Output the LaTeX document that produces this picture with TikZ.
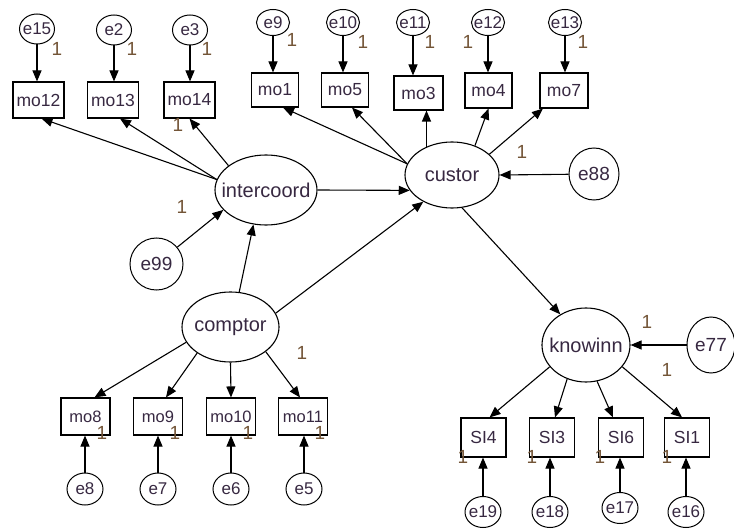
\documentclass[tikz,border=0pt]{standalone}
\usepackage{fontspec}
\setmainfont{Liberation Sans}
\usetikzlibrary{shapes.geometric,arrows.meta}
\definecolor{nm}{RGB}{55,40,65}
\definecolor{onec}{RGB}{115,85,55}
\newcommand\nzw[1]{\makebox[0pt]{#1}}
\begin{document}
\begin{tikzpicture}[x=1pt,y=-1pt,
 obs/.style={draw,line width=1.1pt,rectangle,inner sep=0pt,font=\fontsize{17.5}{17.5}\selectfont,text=nm},
 lat/.style={draw,line width=1.1pt,ellipse,inner sep=0pt,font=\fontsize{20}{20}\selectfont,text=nm},
 err/.style={draw,line width=1pt,ellipse,inner sep=0pt,font=\fontsize{17}{17}\selectfont,text=nm},
 arr/.style={line width=1.1pt,-{Triangle[length=11pt,width=9pt]}},
 onelab/.style={font=\fontsize{19}{19}\selectfont,text=onec,inner sep=0pt},
 tlbox/.style={obs,minimum width=51pt,minimum height=36pt},
 trbox/.style={obs,minimum width=47pt,minimum height=34pt},
 blbox/.style={obs,minimum width=49pt,minimum height=37pt,font=\fontsize{16.5}{16.5}\selectfont},
 sibox/.style={obs,minimum width=45pt,minimum height=39pt},
 tle/.style={err,minimum width=35pt,minimum height=30pt},
 tre/.style={err,minimum width=33pt,minimum height=26pt},
 ble/.style={err,minimum width=36pt,minimum height=32pt},
 bre/.style={err,minimum width=36pt,minimum height=31pt}]
\useasboundingbox (0,0) rectangle (734,532);
% top-left
\node[tlbox] (mo12) at (38.5,100) {mo12};
\node[tlbox] (mo13) at (113,100) {mo13};
\node[tlbox] (mo14) at (189.5,100) {mo14};
\node[tle] (e15) at (37,29) {\nzw{e15}};
\node[tle] (e2) at (114,30) {\nzw{e2}};
\node[tle] (e3) at (190,30) {\nzw{e3}};
% top-right
\node[trbox] (mo1) at (275,90) {mo1};
\node[trbox] (mo5) at (345,90) {mo5};
\node[trbox,minimum width=49pt] (mo3) at (418.5,93) {mo3};
\node[trbox,minimum height=35pt] (mo4) at (488.5,90.5) {mo4};
\node[trbox,minimum width=48pt,minimum height=35pt] (mo7) at (564,90.5) {mo7};
\node[tre] (e9) at (273,22.5) {\nzw{e9}};
\node[tre] (e10) at (343,22.5) {\nzw{e10}};
\node[tre] (e11) at (413,22.5) {\nzw{e11}};
\node[tre] (e12) at (488,22.5) {\nzw{e12}};
\node[tre] (e13) at (565,22.5) {\nzw{e13}};
% bottom-left
\node[blbox] (mo8) at (85.5,416.5) {mo8};
\node[blbox] (mo9) at (158,416.5) {mo9};
\node[blbox] (mo10) at (231,416.5) {mo10};
\node[blbox] (mo11) at (303,416.5) {mo11};
\node[ble] (e8) at (85,489) {\nzw{e8}};
\node[ble] (e7) at (158,489) {\nzw{e7}};
\node[ble] (e6) at (231,489) {\nzw{e6}};
\node[ble] (e5) at (304,489) {\nzw{e5}};
% bottom-right
\node[sibox] (SI4) at (483.5,437.5) {SI4};
\node[sibox] (SI3) at (552,437.5) {SI3};
\node[sibox] (SI6) at (621,437.5) {SI6};
\node[sibox] (SI1) at (687,437.5) {SI1};
\node[bre] (e19) at (483,512) {\nzw{e19}};
\node[bre] (e18) at (550,512) {\nzw{e18}};
\node[bre] (e17) at (620,508) {\nzw{e17}};
\node[bre] (e16) at (686,512) {\nzw{e16}};
% latents
\node[lat,minimum width=102pt,minimum height=70pt] (intercoord) at (266,190) {\nzw{intercoord}};
\node[lat,minimum width=94pt,minimum height=66pt] (custor) at (452,175) {\nzw{custor}};
\node[lat,minimum width=97pt,minimum height=70pt] (comptor) at (230.5,327) {\nzw{comptor}};
\node[lat,minimum width=88pt,minimum height=74pt] (knowinn) at (586,345) {\nzw{knowinn}};
\node[err,minimum width=53pt,minimum height=52pt,font=\fontsize{19}{19}\selectfont] (e99) at (156.5,264) {\nzw{e99}};
\node[err,minimum width=50pt,minimum height=52pt,font=\fontsize{19}{19}\selectfont] (e88) at (594,174) {\nzw{e88}};
\node[err,minimum width=48pt,minimum height=56pt,font=\fontsize{19}{19}\selectfont] (e77) at (711,345) {\nzw{e77}};
% error arrows
\foreach \e/\b in {e15/mo12,e2/mo13,e3/mo14,e9/mo1,e10/mo5,e11/mo3,e12/mo4,e13/mo7}
  \draw[arr] (\e) -- (\e |- \b.north);
\foreach \e/\b in {e8/mo8,e7/mo9,e6/mo10,e5/mo11,e19/SI4,e18/SI3,e17/SI6,e16/SI1}
  \draw[arr] (\e) -- (\e |- \b.south);
% structural
\draw[arr] (intercoord.168) -- ([xshift=3pt]mo12.south);
\draw[arr] (intercoord.168) -- ([xshift=7pt]mo13.south);
\draw[arr] (intercoord.147) -- (mo14.south);
\draw[arr] (custor.166) -- ([xshift=8pt]mo1.south);
\draw[arr] (custor.166) -- ([xshift=7pt]mo5.south);
\draw[arr] (custor.132) -- (custor.132 |- mo3.south);
\draw[arr] (custor.52) -- (mo4.south);
\draw[arr] (custor.29) -- (mo7);
\draw[arr] (intercoord.east) -- (custor.200);
\draw[arr] (e99) -- (intercoord.205);
\draw[arr] (comptor.76) -- (intercoord.250);
\draw[arr] (comptor.17) -- (custor.223);
\draw[arr] (e88) -- (custor.east);
\draw[arr] (custor.287) -- (knowinn.130);
\draw[arr] (e77) -- (knowinn.east);
\draw[arr] (comptor.199) -- ([xshift=9pt]mo8.north);
\draw[arr] (comptor.218) -- ([xshift=8pt]mo9.north);
\draw[arr] (comptor.270) -- (mo10.north);
\draw[arr] (comptor.325) -- ([xshift=-3pt]mo11.north);
\draw[arr] (knowinn.211) -- ([xshift=6pt]SI4.north);
\draw[arr] (knowinn.241) -- ([xshift=3pt]SI3.north);
\draw[arr] (knowinn.287) -- ([xshift=-8pt]SI6.north);
\draw[arr] (knowinn.329) -- ([xshift=-5pt]SI1.north);
% "1" labels
\node[onelab] (o1) at (57,49) {1};
\node[onelab] (o2) at (132,49) {1};
\node[onelab] (o3) at (207,49) {1};
\node[onelab] (o4) at (178,125) {1};
\node[onelab] (o5) at (292,40) {1};
\node[onelab] (o6) at (363,42) {1};
\node[onelab] (o7) at (430,42) {1};
\node[onelab] (o8) at (468,42) {1};
\node[onelab] (o9) at (583,42) {1};
\node[onelab] (o10) at (522,152) {1};
\node[onelab] (o11) at (182,207) {1};
\node[onelab] (o12) at (302,353) {1};
\node[onelab] (o13) at (102,433) {1};
\node[onelab] (o14) at (175,433) {1};
\node[onelab] (o15) at (248,433) {1};
\node[onelab] (o16) at (320,433) {1};
\node[onelab] (o17) at (647,322) {1};
\node[onelab] (o18) at (667,370) {1};
\node[onelab] (o19) at (463,457) {1};
\node[onelab] (o20) at (532,457) {1};
\node[onelab] (o21) at (600,457) {1};
\node[onelab] (o22) at (667,457) {1};
\end{tikzpicture}
\end{document}
